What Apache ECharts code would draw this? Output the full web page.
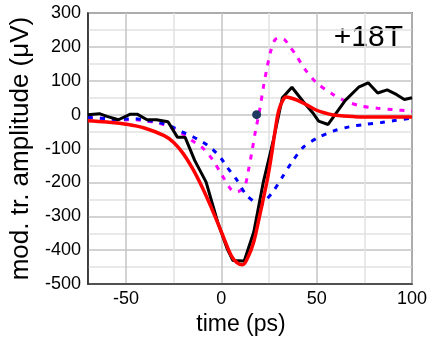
<!DOCTYPE html>
<html>
<head>
<meta charset="utf-8">
<script src="https://cdn.jsdelivr.net/npm/echarts@6/dist/echarts.min.js"></script>
<style>
  html, body { margin: 0; padding: 0; background: #fff; }
  #chart { width: 436px; height: 341px; }
</style>
</head>
<body>
<div id="chart"></div>
<script>
// measured trace (black)
var measT = [-70, -64, -60, -54, -48, -44, -39, -34, -28, -23, -19, -14, -8, -2, 3, 6, 12, 17, 22, 27, 32, 37, 43, 48, 51, 56, 65, 72, 77, 82, 87, 92, 96, 100];
var measV = [0, 3, -5, -15, 1, 1, -15, -15, -21, -67, -67, -135, -199, -316, -395, -430, -432, -346, -199, -82, 50, 81, 38, 5, -19, -29, 42, 81, 94, 64, 73, 59, 45, 50];

// fit (red)
var fitT = [-70, -60, -50, -40, -30, -25, -20, -15, -10, -5, 0, 5, 8, 11, 14, 17, 20, 22, 24, 26, 28, 30, 32, 34, 36, 40, 45, 50, 55, 60, 70, 80, 100];
var fitV = [-18, -22, -28, -40, -62, -82, -115, -160, -215, -278, -346, -414, -436, -443, -420, -375, -300, -248, -195, -130, -55, 10, 40, 52, 50, 42, 28, 13, 4, -2, -6, -7, -7];

// magenta dotted
var magT = [-70, -65, -60, -55, -50, -45, -40, -35, -30, -25, -20, -15, -10, -5, 0, 5, 8, 12, 14, 16, 18, 20, 22, 24, 26, 28, 30, 33, 36, 39, 44, 50, 58, 65, 73, 82, 90, 100];
var magV = [-8, -10, -12, -15, -15, -15, -19, -22, -30, -42, -58, -78, -97, -130, -175, -220, -228, -214, -170, -110, -45, 10, 80, 140, 190, 220, 226, 222, 200, 177, 133, 94, 62, 40, 26, 19, 15, 10];

// blue dashed
var bluT = [-70, -60, -55, -50, -45, -40, -35, -30, -25, -20, -15, -10, -5, 0, 3, 8, 13, 18, 21, 24, 27, 32, 37, 43, 51, 59, 67, 75, 84, 90, 100];
var bluV = [-8, -12, -15, -13, -12, -17, -20, -27, -38, -52, -65, -80, -100, -130, -155, -192, -236, -260, -265, -248, -228, -184, -140, -96, -67, -48, -36, -29, -23, -18, -10];

var dotPoint = [18.5, 0];
var fieldLabel = "+18T";

function pairs(t, v) {
  return t.map(function (x, i) { return [x, v[i]]; });
}

var major = "#c4c4c4";
var minor = "#e2e2e2";
var font = "Liberation Sans";
var none = "rgba(0,0,0,0)";

var myChart = echarts.init(document.getElementById("chart"));
myChart.setOption({
  animation: false,
  grid: {
    left: 80,
    right: 24,
    top: 13,
    bottom: 55,
    show: true,
    borderColor: "#333",
    borderWidth: 1.5,
  },
  xAxis: {
    type: "value",
    min: -70,
    max: 100,
    interval: 5,
    name: "time (ps)",
    nameLocation: "middle",
    nameGap: 20,
    nameTextStyle: { color: "#000", fontSize: 23, fontFamily: font, padding: [0, 18, 0, 0] },
    axisLine: { show: true, onZero: false, lineStyle: { color: "#333", width: 1.5 } },
    axisTick: { show: false },
    axisLabel: {
      color: "#000",
      fontSize: 18,
      fontFamily: font,
      margin: 6,
      formatter: function (v) {
        return v % 50 === 0 ? String(v) : "";
      },
    },
    splitLine: {
      show: true,
      lineStyle: {
        width: 1.5,
        // tick spacing 5 -> grid every 25, darker at labelled ones
        color: [none, none, none, none, major, none, none, none, none, minor],
      },
    },
  },
  yAxis: {
    type: "value",
    min: -500,
    max: 300,
    interval: 50,
    name: "mod. tr. amplitude (\u03bcV)",
    nameLocation: "middle",
    nameGap: 50,
    nameTextStyle: { color: "#000", fontSize: 26, fontFamily: font },
    axisLine: { show: true, onZero: false, lineStyle: { color: "#333", width: 1.5 } },
    axisTick: { show: false },
    axisLabel: {
      color: "#000",
      fontSize: 18,
      fontFamily: font,
      margin: 7,
      formatter: function (v) {
        return v % 100 === 0 ? String(v) : "";
      },
    },
    splitLine: {
      show: true,
      lineStyle: { width: 1.5, color: [major, minor] },
    },
  },
  graphic: [
    {
      type: "text",
      right: 33,
      top: 23,
      style: { text: fieldLabel, font: "30px " + font, fill: "#000" },
    },
  ],
  series: [
    {
      name: "magenta",
      type: "line",
      data: pairs(magT, magV),
      showSymbol: false,
      smooth: 0.3,
      lineStyle: { color: "#ff00ff", width: 3, type: [5, 7] },
    },
    {
      name: "blue",
      type: "line",
      data: pairs(bluT, bluV),
      showSymbol: false,
      smooth: 0.3,
      lineStyle: { color: "#0000ff", width: 3, type: [5, 7] },
    },
    {
      name: "measured",
      type: "line",
      data: pairs(measT, measV),
      showSymbol: false,
      lineStyle: { color: "#000", width: 3 },
    },
    {
      name: "fit",
      type: "line",
      data: pairs(fitT, fitV),
      showSymbol: false,
      smooth: 0.4,
      lineStyle: { color: "#ff0000", width: 3.5 },
    },
    {
      name: "dot",
      type: "scatter",
      data: [dotPoint],
      symbolSize: 9,
      z: 10,
      itemStyle: { color: "#1d3a5e", opacity: 1 },
    },
  ],
});
</script>
</body>
</html>
